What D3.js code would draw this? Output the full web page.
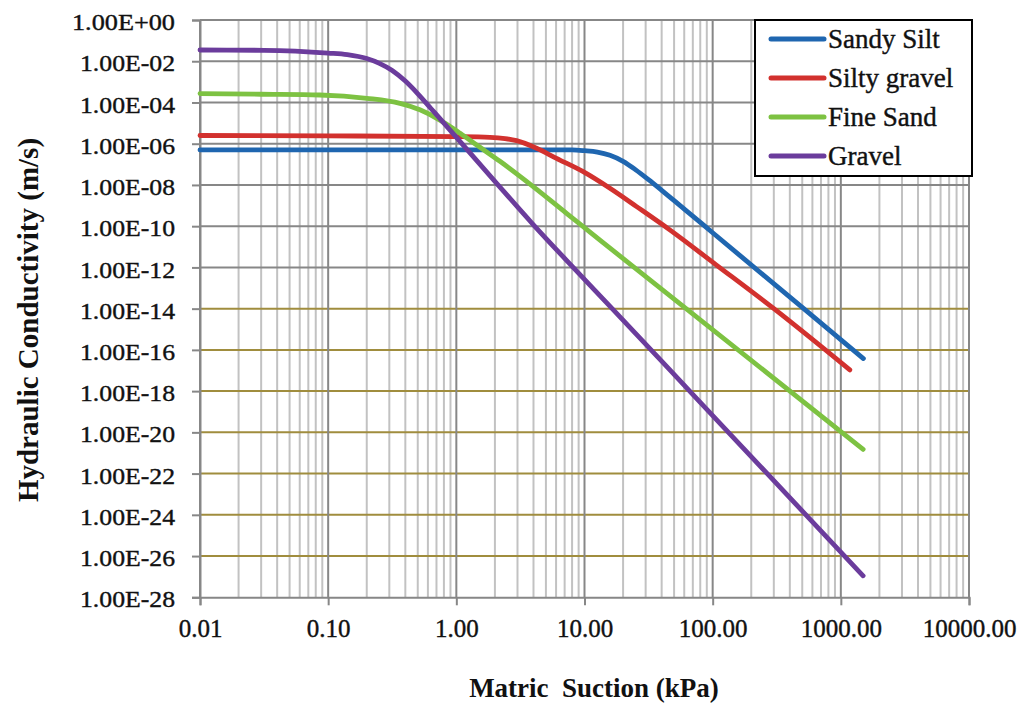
<!DOCTYPE html>
<html>
<head>
<meta charset="utf-8">
<script src="https://cdn.jsdelivr.net/npm/d3@7/dist/d3.min.js"></script>
<style>
  html, body { margin: 0; padding: 0; background: #ffffff; }
  svg { display: block; }
  text { font-family: "Liberation Serif", "Times New Roman", serif; fill: #111; }
</style>
</head>
<body>
<svg id="chart" width="1026" height="705"></svg>
<script>
// ---------- data ----------
const seriesNames = ["Sandy Silt", "Silty gravel", "Fine Sand", "Gravel"];
const seriesColors = ["#1f66b0", "#d2312e", "#7dc242", "#6b3c9c"];

// Sandy Silt
const sandySiltSuction = [0.01, 0.1, 1, 8, 10, 12.6, 15.8, 20.0, 25.1, 31.6, 39.8, 50.1, 63.1, 100, 508, 1500];
const sandySiltK = [5.0e-7, 5.0e-7, 5.0e-7, 5.0e-7, 4.6e-7, 3.95e-7, 2.75e-7, 1.4e-7, 5.4e-8, 1.8e-8, 5.65e-9, 1.73e-9, 5.25e-10, 4.8e-11, 1.05e-14, 3.8e-17];

// Silty gravel
const siltyGravelSuction = [0.01, 0.1, 1, 1.83, 2.4, 2.95, 4.23, 6.05, 9.77, 15.8, 25.5, 46.3, 107, 297, 1175];
const siltyGravelK = [2.5e-6, 2.4e-6, 2.2e-6, 2.05e-6, 1.78e-6, 1.4e-6, 6.0e-7, 1.95e-7, 4.4e-8, 6.9e-9, 8.9e-10, 6.6e-11, 1.3e-12, 1.05e-14, 1.07e-17];

// Fine Sand
const fineSandSuction = [0.01, 0.03, 0.086, 0.2, 0.363, 0.52, 0.745, 0.871, 1.07, 1.51, 2.19, 3.98, 7.24, 13.2, 24.0, 1493];
const fineSandK = [2.7e-4, 2.5e-4, 2.3e-4, 1.6e-4, 9.1e-5, 4.4e-5, 1.4e-5, 7.6e-6, 3.2e-6, 7.1e-7, 1.4e-7, 8.3e-9, 4.2e-10, 2.1e-11, 1.1e-12, 1.5e-21];

// Gravel
const gravelSuction = [0.01, 0.0316, 0.1, 0.141, 0.2, 0.251, 0.316, 0.398, 0.501, 0.631, 0.832, 1.2, 2.0, 3.98, 7.24, 17.3, 70.5, 1493];
const gravelK = [3.5e-2, 3.4e-2, 2.5e-2, 2.09e-2, 1.35e-2, 7.9e-3, 3.55e-3, 1.12e-3, 2.63e-4, 5.25e-5, 7.6e-6, 5.6e-7, 1.5e-8, 1.2e-10, 2.2e-12, 7.2e-15, 6.6e-19, 1.1e-27];

// axis ticks
const xTickValues = [0.01, 0.1, 1, 10, 100, 1000, 10000];
const yTickExponents = [0, -2, -4, -6, -8, -10, -12, -14, -16, -18, -20, -22, -24, -26, -28];

const xTitle = "Matric  Suction (kPa)";
const yTitle = "Hydraulic Conductivity (m/s)";

// ---------- build ----------
const seriesX = [sandySiltSuction, siltyGravelSuction, fineSandSuction, gravelSuction];
const seriesY = [sandySiltK, siltyGravelK, fineSandK, gravelK];
const series = seriesNames.map((name, i) => ({
  name, color: seriesColors[i],
  points: seriesX[i].map((xv, j) => ({ x: xv, y: seriesY[i][j] }))
}));

const serif = '"Liberation Serif", "Times New Roman", Times, serif';
const svg = d3.select("#chart");
const plotLeft = 200, plotRight = 969, plotTop = 20, plotBottom = 597.3;

const x = d3.scaleLog().domain([0.01, 10000]).range([plotLeft, plotRight]);
const y = d3.scaleLog().domain([1e-28, 1]).range([plotBottom, plotTop]);

// vertical grid lines
const vGrid = [];
for (let k = -2; k <= 3; k++) {
  for (let m = 1; m <= 9; m++) vGrid.push({ v: m * Math.pow(10, k), major: m === 1 });
}
vGrid.push({ v: 10000, major: true });

const gGrid = svg.append("g");
gGrid.selectAll("line.v").data(vGrid.filter(d => !d.major)).join("line")
  .attr("class", "v")
  .attr("x1", d => x(d.v)).attr("x2", d => x(d.v))
  .attr("y1", plotTop).attr("y2", plotBottom)
  .attr("stroke", "#c2c2c2").attr("stroke-width", 2);

const yTickValues = yTickExponents.map(e => Math.pow(10, e));
gGrid.selectAll("line.h").data(yTickExponents.filter(e => e !== -28)).join("line")
  .attr("class", "h")
  .attr("x1", plotLeft).attr("x2", plotRight)
  .attr("y1", e => y(Math.pow(10, e))).attr("y2", e => y(Math.pow(10, e)))
  .attr("stroke", e => e >= -12 ? "#878787" : "#a08d3e")
  .attr("stroke-width", 2);

gGrid.selectAll("line.vm").data(vGrid.filter(d => d.major)).join("line")
  .attr("class", "vm")
  .attr("x1", d => x(d.v)).attr("x2", d => x(d.v))
  .attr("y1", plotTop).attr("y2", plotBottom)
  .attr("stroke", "#878787").attr("stroke-width", 2);

// axes
const fmtY = e => "1.00E" + (e >= 0 ? "+" : "-") + String(Math.abs(e)).padStart(2, "0");
const yAxis = d3.axisLeft(y).tickValues(yTickValues).tickSize(8).tickPadding(17)
  .tickFormat(v => fmtY(Math.round(Math.log10(v))));
const gy = svg.append("g").attr("transform", `translate(${plotLeft},0)`).call(yAxis);
gy.attr("font-family", null).attr("font-size", null);
gy.select(".domain").attr("stroke", "#878787").attr("stroke-width", 2);
gy.selectAll(".tick line").attr("stroke", "#878787").attr("stroke-width", 2);
gy.selectAll(".tick text")
  .style("font-family", serif).style("font-size", "24px")
  .attr("dy", "0.40em").attr("fill", "#111")
  .attr("stroke", "#111").attr("stroke-width", 0.4)
  .attr("textLength", d => Math.log10(d) >= 0 ? 103 : 95)
  .attr("lengthAdjust", "spacingAndGlyphs");

const xAxis = d3.axisBottom(x).tickValues(xTickValues).tickSize(8).tickPadding(14)
  .tickFormat(d3.format(".2f"));
const gx = svg.append("g").attr("transform", `translate(0,${plotBottom})`).call(xAxis);
gx.attr("font-family", null).attr("font-size", null);
gx.select(".domain").attr("stroke", "#878787").attr("stroke-width", 2);
gx.selectAll(".tick line").attr("stroke", "#878787").attr("stroke-width", 2);
gx.selectAll(".tick text")
  .style("font-family", serif).style("font-size", "25px").attr("fill", "#111")
  .attr("stroke", "#111").attr("stroke-width", 0.4);

// series
const line = d3.line().x(d => x(d.x)).y(d => y(d.y)).curve(d3.curveMonotoneX);
svg.append("g").selectAll("path").data(series).join("path")
  .attr("d", d => line(d.points))
  .attr("fill", "none")
  .attr("stroke", d => d.color)
  .attr("stroke-width", 4.8)
  .attr("stroke-linecap", "round")
  .attr("stroke-linejoin", "round");

// titles
svg.append("text")
  .attr("x", 594).attr("y", 697)
  .attr("text-anchor", "middle")
  .style("font-family", serif).style("font-size", "27px").attr("font-weight", "bold")
  .style("white-space", "pre")
  .text(xTitle);

svg.append("text")
  .attr("transform", "translate(38,320) rotate(-90)")
  .attr("text-anchor", "middle")
  .style("font-family", serif).style("font-size", "29px").attr("font-weight", "bold")
  .text(yTitle);

// legend
const lg = svg.append("g");
lg.append("rect").attr("x", 755).attr("y", 20).attr("width", 217).attr("height", 156)
  .attr("fill", "#ffffff").attr("stroke", "#000").attr("stroke-width", 2);
const items = lg.selectAll("g.item").data(series).join("g")
  .attr("class", "item")
  .attr("transform", (d, i) => `translate(0,${39 + i * 39})`);
items.append("line").attr("x1", 771).attr("x2", 824).attr("y1", 0).attr("y2", 0)
  .attr("stroke", d => d.color).attr("stroke-width", 5).attr("stroke-linecap", "round");
items.append("text").attr("x", 828).attr("y", 9)
  .style("font-family", serif).style("font-size", "27px")
  .attr("stroke", "#111").attr("stroke-width", 0.4)
  .text(d => d.name);
</script>
</body>
</html>
